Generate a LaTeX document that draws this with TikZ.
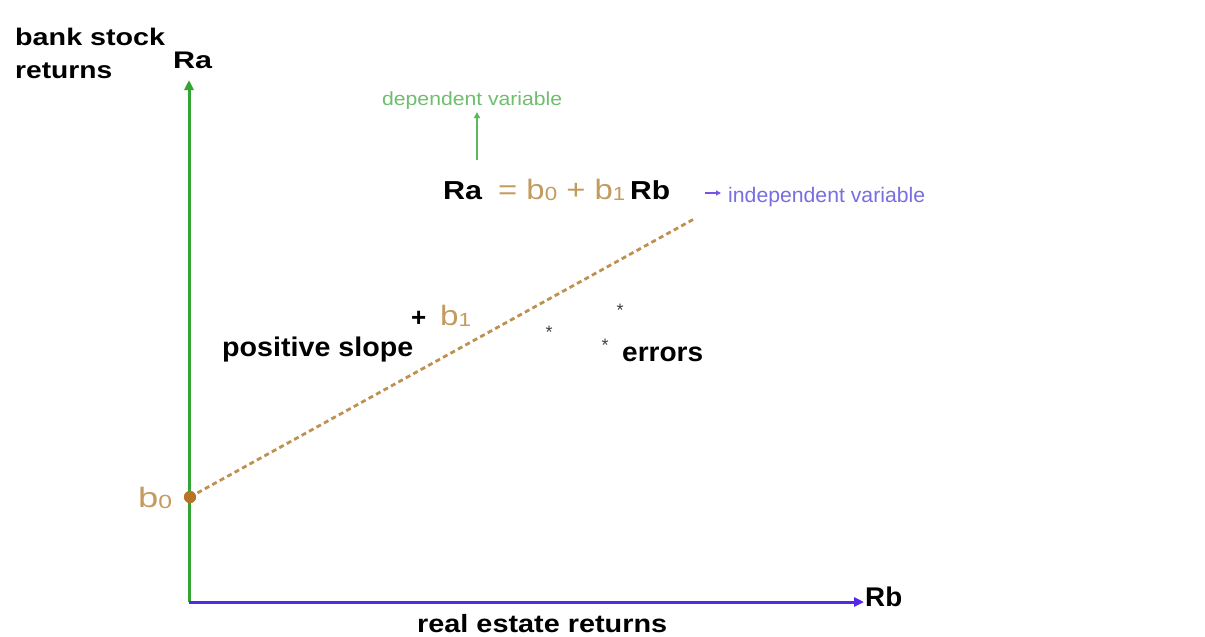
\documentclass[tikz,border=0pt]{standalone}
\usepackage{fontspec}
\setmainfont{Liberation Sans}
\usepackage{graphicx}
\usetikzlibrary{arrows.meta}
\definecolor{axgreen}{RGB}{52,165,52}
\definecolor{lightgreen}{RGB}{110,190,110}
\definecolor{axblue}{RGB}{85,40,230}
\definecolor{lightblue}{RGB}{120,110,225}
\definecolor{tan}{RGB}{195,155,95}
\definecolor{dotbrown}{RGB}{185,115,40}
\definecolor{dashbrown}{RGB}{190,145,80}
\newcommand{\fitw}[2]{\resizebox{#1}{\height}{#2}}
\newcommand{\fs}[1]{\fontsize{#1}{#1}\selectfont}
\newcommand{\sub}[1]{\raisebox{-1.5pt}{\fs{19}#1}}
\tikzset{
  lbl/.style={inner sep=0pt, anchor=base west},
  blk/.style={lbl, text=black, font=\bfseries},
  axis/.style={line width=3pt, -{Triangle[length=10pt,width=9pt]}},
}
\begin{document}
\begin{tikzpicture}[x=1pt,y=-1pt]
\useasboundingbox (0,0) rectangle (1205,637);
\clip (0,0) rectangle (1205,637);
\fill[white] (0,0) rectangle (1205,637);
% axes
\coordinate (O) at (189,602);
\coordinate (Ytop) at (189,80);
\coordinate (Xend) at (864,602);
\draw[axis, axgreen] (O) -- (Ytop);
\draw[axis, axblue] (O) -- (Xend);
% axis labels
\node[blk] (bank) at (15,45) {\fitw{150pt}{\fs{24}bank stock}};
\node[blk] (ret) at (15,78) {\fitw{97pt}{\fs{24}returns}};
\node[blk] (Ra) at (173,68) {\fitw{39pt}{\fs{24}Ra}};
\node[blk] (Rb) at (865,606) {\fitw{37pt}{\fs{27}Rb}};
\node[blk] (rer) at (417,632) {\fitw{250pt}{\fs{25}real estate returns}};
% regression line
\coordinate (lineEnd) at (694,219);
\node[circle, fill=dotbrown, inner sep=0pt, minimum size=12pt] (b0dot) at (190,497) {};
\draw[dashbrown, line width=2.8pt, dash pattern=on 5pt off 3.5pt] (b0dot.center) -- (lineEnd);
\fill[dotbrown] (b0dot.center) circle (6pt);
\node[lbl, text=tan] (b0lbl) at (138,507) {\fitw{34pt}{\fs{28}b\sub{0}}};
% equation
\node[blk] (eqRa) at (443,199) {\fitw{39pt}{\fs{26}Ra}};
\node[lbl, text=tan] (eqMid) at (498,199) {\fitw{127pt}{\fs{28}= b\sub{0} + b\sub{1}}};
\node[blk] (eqRb) at (630,199) {\fitw{40pt}{\fs{26}Rb}};
% dependent variable
\node[lbl, text=lightgreen] (dep) at (382,105) {\fitw{180pt}{\fs{19}dependent variable}};
\coordinate (depFrom) at (477,160);
\coordinate (depTo) at (477,112);
\draw[axgreen!80, line width=1.8pt, -{Triangle[length=6pt,width=6pt]}] (depFrom) -- (depTo);
% independent variable
\coordinate (indFrom) at (705,193);
\coordinate (indTo) at (721,193);
\draw[axblue!80, line width=1.5pt, -{Triangle[length=5pt,width=5pt]}] (indFrom) -- (indTo);
\node[lbl, text=lightblue] (indep) at (728,202) {\fitw{197pt}{\fs{21}independent variable}};
% slope
\node[blk] (plus) at (411,326) {\fs{26}+};
\node[lbl, text=tan] (b1lbl) at (440,325) {\fitw{31pt}{\fs{28}b\sub{1}}};
\node[blk] (pslope) at (222,356) {\fitw{191pt}{\fs{27}positive slope}};
% errors
\node[inner sep=0pt, text=black!75] (e1) at (549,332) {\fs{18}*};
\node[inner sep=0pt, text=black!75] (e2) at (620,310) {\fs{18}*};
\node[inner sep=0pt, text=black!75] (e3) at (605,345) {\fs{18}*};
\node[blk] (errors) at (622,361) {\fitw{81pt}{\fs{27}errors}};
\end{tikzpicture}
\end{document}
